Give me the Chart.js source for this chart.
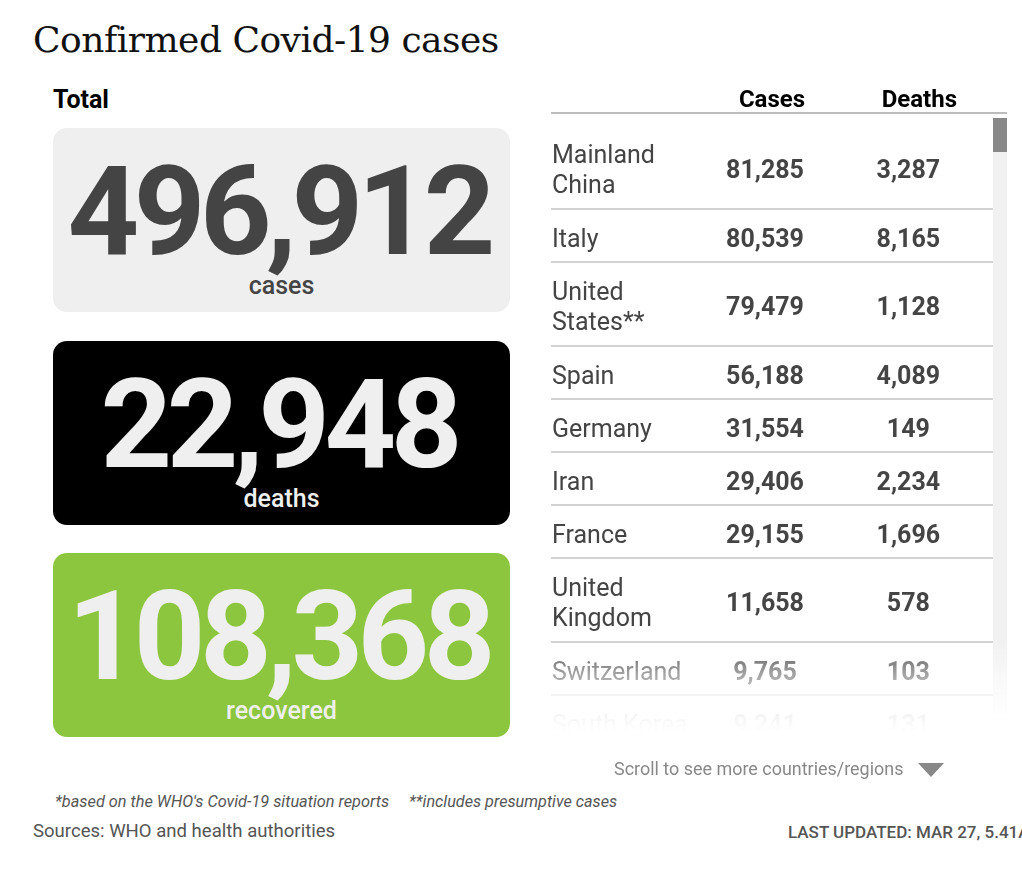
<!DOCTYPE html>
<html>
<head>
<meta charset="utf-8">
<script src="https://cdn.jsdelivr.net/npm/chart.js"></script>
<style>
  body { margin: 0; background: #fff; font-family: Roboto, sans-serif; }
  #page { position: relative; width: 1022px; height: 870px; overflow: hidden; }
  .abs { position: absolute; white-space: nowrap; }
  #title { left: 33px; top: 22px; font: 36px/36px "DejaVu Serif", serif; color: #111; letter-spacing: -0.5px; }
  #total { left: 53px; top: 87px; font: 700 25px/25px Roboto, sans-serif; color: #000; }
  .tile { position: absolute; left: 53px; width: 457px; height: 184px; border-radius: 14px; }
  .tile .num { position: absolute; left: 0; right: 0; top: 21px; text-align: center;
    font: 700 125px/125px Roboto, sans-serif; letter-spacing: -5.5px; text-indent: -5.5px; }
  .tile .lab { position: absolute; left: 0; right: 0; top: 145px; text-align: center;
    font: 500 25px/25px Roboto, sans-serif; }
  #table { position: absolute; left: 540px; top: 80px; }
  #track { left: 993px; top: 118px; width: 14px; height: 630px; background: #f1f1f1; }
  #thumb { left: 993px; top: 118px; width: 14px; height: 34px; background: #888; }
  #fade { left: 545px; top: 640px; width: 470px; height: 120px;
    background: linear-gradient(to bottom, rgba(255,255,255,0) 0%, rgba(255,255,255,0.5) 28%, rgba(255,255,255,0.94) 62%, #fff 76%); }
  .cond { transform-origin: 0 0; }
  #scroll { left: 614px; top: 759px; font: 18px/20px Roboto, sans-serif; color: #888; }
  #tri { left: 918px; top: 763px; width: 0; height: 0; border-left: 13.5px solid transparent;
    border-right: 13.5px solid transparent; border-top: 14px solid #888; }
  #note1 { left: 55px; top: 791px; font: italic 17px/20px Roboto, sans-serif; color: #555; }
  #note2 { left: 409px; top: 791px; font: italic 17px/20px Roboto, sans-serif; color: #555; }
  #source { left: 33px; top: 821px; font: 18px/20px Roboto, sans-serif; color: #555; }
  #updated { left: 788px; top: 822px; font: 500 17px/20px Roboto, sans-serif; color: #555; }
</style>
</head>
<body>
<div id="page">
  <div id="title" class="abs">Confirmed Covid-19 cases</div>
  <div id="total" class="abs">Total</div>
  <div id="tiles"></div>
  <canvas id="table" width="470" height="680"></canvas>
  <div id="track" class="abs"></div>
  <div id="thumb" class="abs"></div>
  <div id="fade" class="abs"></div>
  <div id="scroll" class="abs cond">Scroll to see more countries/regions</div>
  <div id="tri" class="abs"></div>
  <div id="note1" class="abs cond">*based on the WHO's Covid-19 situation reports</div>
  <div id="note2" class="abs cond">**includes presumptive cases</div>
  <div id="source" class="abs cond">Sources: WHO and health authorities</div>
  <div id="updated" class="abs cond">LAST UPDATED: MAR 27, 5.41AM</div>
</div>
<script>
// data
const totalLabels = ["cases", "deaths", "recovered"];
const totalValues = [496912, 22948, 108368];

const columns = ["", "Cases", "Deaths"];
const countries = [["Mainland", "China"], ["Italy"], ["United", "States**"], ["Spain"], ["Germany"],
  ["Iran"], ["France"], ["United", "Kingdom"], ["Switzerland"], ["South Korea"]];
const cases = [81285, 80539, 79479, 56188, 31554, 29406, 29155, 11658, 9765, 9241];
const deaths = [3287, 8165, 1128, 4089, 149, 2234, 1696, 578, 103, 131];

const fmt = v => v.toLocaleString("en-US");

// total tiles
const tileTops = [128, 341, 553];
const tileBg = ["#efefef", "#000", "#8cc63f"];
const tileFg = ["#444", "#efefef", "#efefef"];
const tiles = document.getElementById("tiles");
totalValues.forEach((v, i) => {
  const t = document.createElement("div");
  t.className = "tile";
  t.style.top = tileTops[i] + "px";
  t.style.background = tileBg[i];
  t.style.color = tileFg[i];
  t.innerHTML = '<div class="num">' + fmt(v) + '</div><div class="lab">' + totalLabels[i] + '</div>';
  tiles.appendChild(t);
});

// condensed footer text
function squeeze(id, w) {
  const el = document.getElementById(id);
  el.style.transform = "scaleX(" + (w / el.offsetWidth) + ")";
}
squeeze("scroll", 289);
squeeze("note1", 334);
squeeze("note2", 208);
squeeze("source", 302);

// table rows: height depends on number of text lines
const rowHeights = countries.map(n => 22 + 31 * n.length);
const bounds = [0];
rowHeights.forEach(h => bounds.push(bounds[bounds.length - 1] + h));

const tableText = {
  id: "tableText",
  afterDraw(chart) {
    const ctx = chart.ctx;
    const { left, top } = chart.chartArea;
    const x = chart.scales.x, y = chart.scales.y;
    ctx.save();
    // header rule
    ctx.strokeStyle = "#bdbdbd";
    ctx.lineWidth = 2;
    ctx.beginPath();
    ctx.moveTo(left, top - 12);
    ctx.lineTo(chart.width - 3, top - 12);
    ctx.stroke();
    // headers
    ctx.fillStyle = "#000";
    ctx.font = "bold 24px Roboto";
    ctx.textAlign = "center";
    ctx.textBaseline = "alphabetic";
    for (let c = 1; c < columns.length; c++) {
      ctx.fillText(columns[c], x.getPixelForValue(c), top - 18);
    }
    // rows
    ctx.textBaseline = "middle";
    ctx.fillStyle = "#444";
    countries.forEach((name, i) => {
      const mid = y.getPixelForValue((bounds[i] + bounds[i + 1]) / 2) + 5;
      ctx.font = "25px Roboto";
      ctx.textAlign = "left";
      name.forEach((line, j) => {
        ctx.fillText(line, left + 1, mid + (j - (name.length - 1) / 2) * 30);
      });
      ctx.font = "bold 25px Roboto";
      ctx.textAlign = "center";
      ctx.fillText(fmt(cases[i]), x.getPixelForValue(1) - 7, mid);
      ctx.fillText(fmt(deaths[i]), x.getPixelForValue(2) - 11, mid);
    });
    ctx.restore();
  }
};

new Chart(document.getElementById("table"), {
  type: "bar",
  data: { labels: columns, datasets: [] },
  options: {
    responsive: false,
    animation: false,
    layout: { padding: { left: 11, top: 45, right: 17, bottom: 12 } },
    plugins: { legend: { display: false }, tooltip: { enabled: false } },
    scales: {
      x: { display: false },
      y: {
        type: "linear",
        reverse: true,
        min: 0,
        max: bounds[bounds.length - 1],
        afterBuildTicks: s => { s.ticks = bounds.map(v => ({ value: v })); },
        ticks: { display: false },
        border: { display: false },
        grid: {
          drawTicks: false,
          lineWidth: 2,
          color: c => (c.tick && c.tick.value === 0) ? "rgba(0,0,0,0)" : "#d2d2d2"
        }
      }
    }
  },
  plugins: [tableText]
});
</script>
</body>
</html>
